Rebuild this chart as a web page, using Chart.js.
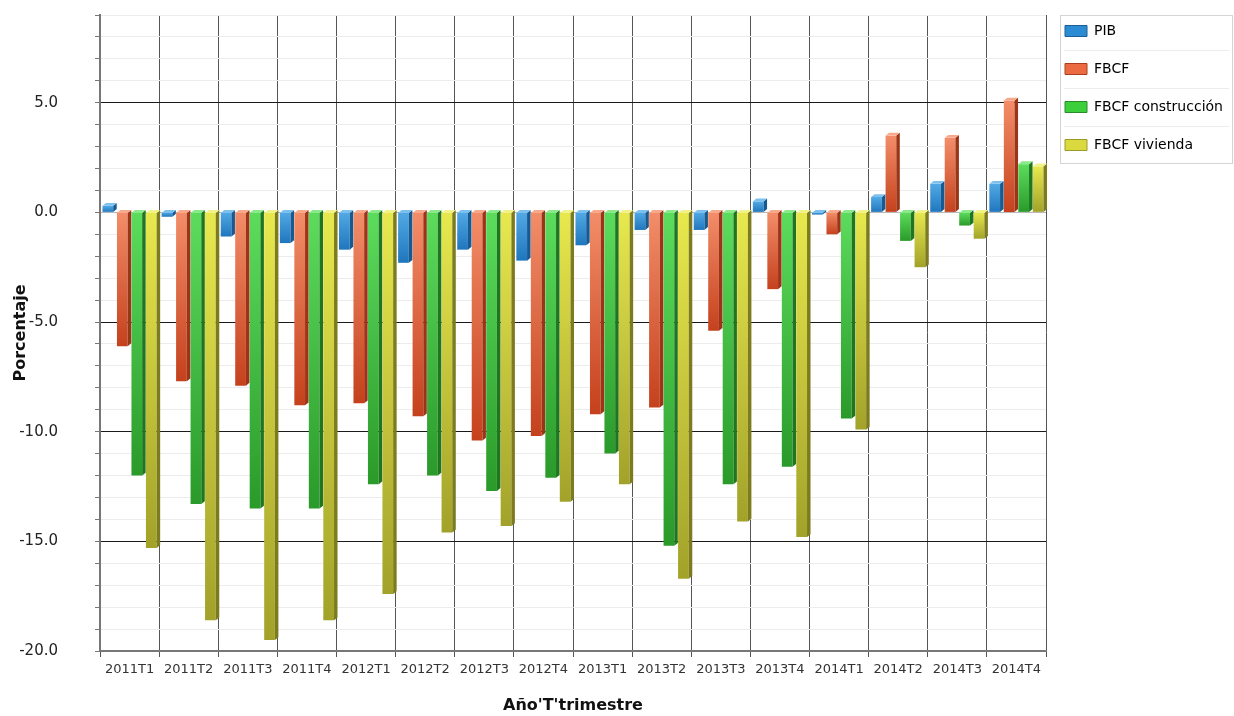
<!DOCTYPE html>
<html>
<head>
<meta charset="utf-8">
<script src="https://cdn.jsdelivr.net/npm/chart.js@4"></script>
<style>
  html, body { margin: 0; padding: 0; background: #fff; }
  #wrap { width: 1234px; height: 716px; }
</style>
</head>
<body>
<div id="wrap"><canvas id="chart" width="1234" height="716"></canvas></div>
<script>
// datos (variacion interanual, %)
var trimestres = ['2011T1', '2011T2', '2011T3', '2011T4', '2012T1', '2012T2', '2012T3', '2012T4',
                  '2013T1', '2013T2', '2013T3', '2013T4', '2014T1', '2014T2', '2014T3', '2014T4'];
var pib = [0.3, -0.2, -1.1, -1.4, -1.7, -2.3, -1.7, -2.2, -1.5, -0.8, -0.8, 0.5, -0.1, 0.7, 1.3, 1.3];
var fbcf = [-6.1, -7.7, -7.9, -8.8, -8.7, -9.3, -10.4, -10.2, -9.2, -8.9, -5.4, -3.5, -1.0, 3.5, 3.4, 5.1];
var fbcfConstruccion = [-12.0, -13.3, -13.5, -13.5, -12.4, -12.0, -12.7, -12.1, -11.0, -15.2, -12.4, -11.6, -9.4, -1.3, -0.6, 2.2];
var fbcfVivienda = [-15.3, -18.6, -19.5, -18.6, -17.4, -14.6, -14.3, -13.2, -12.4, -16.7, -14.1, -14.8, -9.9, -2.5, -1.2, 2.1];
var nombres = ['PIB', 'FBCF', 'FBCF construcción', 'FBCF vivienda'];
var yMin = -20, yMax = 9;

// colores: claro arriba, oscuro abajo, cara lateral, leyenda
var estilos = [
  { claro: '#52a9e4', oscuro: '#1f76bd', lado: '#175a92', tapa: '#7cc0ee', leyenda: '#2b8bd3', borde: '#1b5e95' },
  { claro: '#f38d69', oscuro: '#c5411d', lado: '#9c3417', tapa: '#f7a98c', leyenda: '#ec6a40', borde: '#a8401f' },
  { claro: '#5cdc5c', oscuro: '#2a9a2a', lado: '#1f761f', tapa: '#8aea8a', leyenda: '#3ccf3c', borde: '#2a8a2a' },
  { claro: '#e8e84e', oscuro: '#a2a22a', lado: '#7c7c1e', tapa: '#f2f28a', leyenda: '#dada3e', borde: '#9a9a2a' }
];

var fuente = 'DejaVu Sans';

function degradado(i) {
  return function (ctx) {
    var e = estilos[i];
    if (ctx.type !== 'data' || !ctx.chart.chartArea) return e.leyenda;
    var ys = ctx.chart.scales.y;
    var p0 = ys.getPixelForValue(0), p1 = ys.getPixelForValue(ctx.raw);
    if (!isFinite(p0) || !isFinite(p1) || Math.abs(p1 - p0) < 1) return e.leyenda;
    var g = ctx.chart.ctx.createLinearGradient(0, Math.min(p0, p1), 0, Math.max(p0, p1));
    g.addColorStop(0, e.claro);
    g.addColorStop(1, e.oscuro);
    return g;
  };
}

// caras laterales y superiores para imitar las barras 3D
var barras3d = {
  id: 'barras3d',
  afterDatasetsDraw: function (chart) {
    var c = chart.ctx, d = 3.5, dy = 2.8;
    chart.data.datasets.forEach(function (ds, i) {
      var meta = chart.getDatasetMeta(i);
      meta.data.forEach(function (el) {
        var p = el.getProps(['x', 'y', 'base', 'width'], true);
        var l = p.x - p.width / 2, r = p.x + p.width / 2;
        var t = Math.min(p.y, p.base), b = Math.max(p.y, p.base);
        c.save();
        c.fillStyle = estilos[i].lado;
        c.beginPath();
        c.moveTo(r, t); c.lineTo(r + d, t - dy); c.lineTo(r + d, b - dy); c.lineTo(r, b);
        c.closePath(); c.fill();
        c.fillStyle = estilos[i].tapa;
        c.beginPath();
        c.moveTo(l, t); c.lineTo(l + d, t - dy); c.lineTo(r + d, t - dy); c.lineTo(r, t);
        c.closePath(); c.fill();
        c.restore();
      });
    });
  }
};

// marco y separadores de la leyenda; la leyenda se corre un poco a la izquierda
var marcoLeyenda = {
  id: 'marcoLeyenda',
  afterLayout: function (chart) {
    var lg = chart.legend;
    if (lg) { lg.left -= 5; lg.right -= 5; }
  },
  afterDraw: function (chart) {
    var hb = chart.legend && chart.legend.legendHitBoxes;
    if (!hb || !hb.length) return;
    var c = chart.ctx;
    var x0 = hb[0].left - 5, x1 = chart.width - 1;
    var y0 = hb[0].top - 9, last = hb[hb.length - 1];
    var y1 = last.top + last.height + 11;
    c.save();
    c.strokeStyle = '#d4d4d4';
    c.lineWidth = 1;
    c.strokeRect(x0 + 0.5, y0 + 0.5, x1 - x0 - 1, y1 - y0);
    c.strokeStyle = '#ececec';
    for (var k = 0; k < hb.length - 1; k++) {
      var ys = Math.round((hb[k].top + hb[k].height + hb[k + 1].top) / 2) + 0.5;
      c.beginPath(); c.moveTo(x0 + 4, ys); c.lineTo(x1 - 4, ys); c.stroke();
    }
    c.restore();
  }
};

var series = [pib, fbcf, fbcfConstruccion, fbcfVivienda];
var datasets = series.map(function (vals, i) {
  return {
    label: nombres[i],
    data: vals,
    backgroundColor: degradado(i),
    borderWidth: 0,
    categoryPercentage: 0.98,
    barPercentage: 0.74
  };
});

new Chart(document.getElementById('chart'), {
  type: 'bar',
  data: { labels: trimestres, datasets: datasets },
  plugins: [barras3d, marcoLeyenda],
  options: {
    responsive: false,
    animation: false,
    layout: { padding: 0 },
    plugins: {
      tooltip: { enabled: false },
      legend: {
        position: 'right',
        align: 'start',
        maxWidth: 188,
        labels: {
          boxWidth: 22,
          boxHeight: 11,
          padding: 24,
          color: '#222',
          font: { family: fuente, size: 14 },
          generateLabels: function (chart) {
            return chart.data.datasets.map(function (ds, i) {
              return {
                text: ds.label,
                fillStyle: estilos[i].leyenda,
                strokeStyle: estilos[i].borde,
                lineWidth: 1,
                hidden: false,
                datasetIndex: i
              };
            });
          }
        }
      }
    },
    scales: {
      x: {
        grid: { offset: true, color: '#555', lineWidth: 1, tickLength: 6, tickColor: '#555' },
        border: { color: '#777', width: 2 },
        ticks: {
          color: '#333', padding: 5, maxRotation: 0, autoSkip: false,
          font: { family: fuente, size: 13 }
        },
        title: {
          display: true, text: "Año'T'trimestre", color: '#111',
          font: { family: fuente, size: 16, weight: 'bold' },
          padding: { top: 0, bottom: 1 }
        },
        afterFit: function (s) { s.height = 65; s.paddingLeft = 0; s.paddingRight = 0; }
      },
      y: {
        min: yMin,
        max: yMax,
        ticks: {
          stepSize: 1, autoSkip: false, padding: 37, color: '#222',
          font: { family: fuente, size: 15 },
          callback: function (v) { return v % 5 === 0 ? v.toFixed(1) : ''; }
        },
        grid: {
          tickLength: 5,
          tickColor: '#777',
          color: function (ctx) {
            var v = ctx.tick && ctx.tick.value;
            if (v === 0) return '#b9b9b9';
            return v % 5 === 0 ? '#1a1a1a' : '#ececec';
          }
        },
        border: { color: '#777', width: 2 },
        title: {
          display: true, text: 'Porcentaje', color: '#111',
          font: { family: fuente, size: 16, weight: 'bold' },
          padding: { top: 11, bottom: 0 }
        },
        afterFit: function (s) { s.width = 100; s.paddingTop = 15; s.paddingBottom = 0; }
      }
    }
  }
});
</script>
</body>
</html>
